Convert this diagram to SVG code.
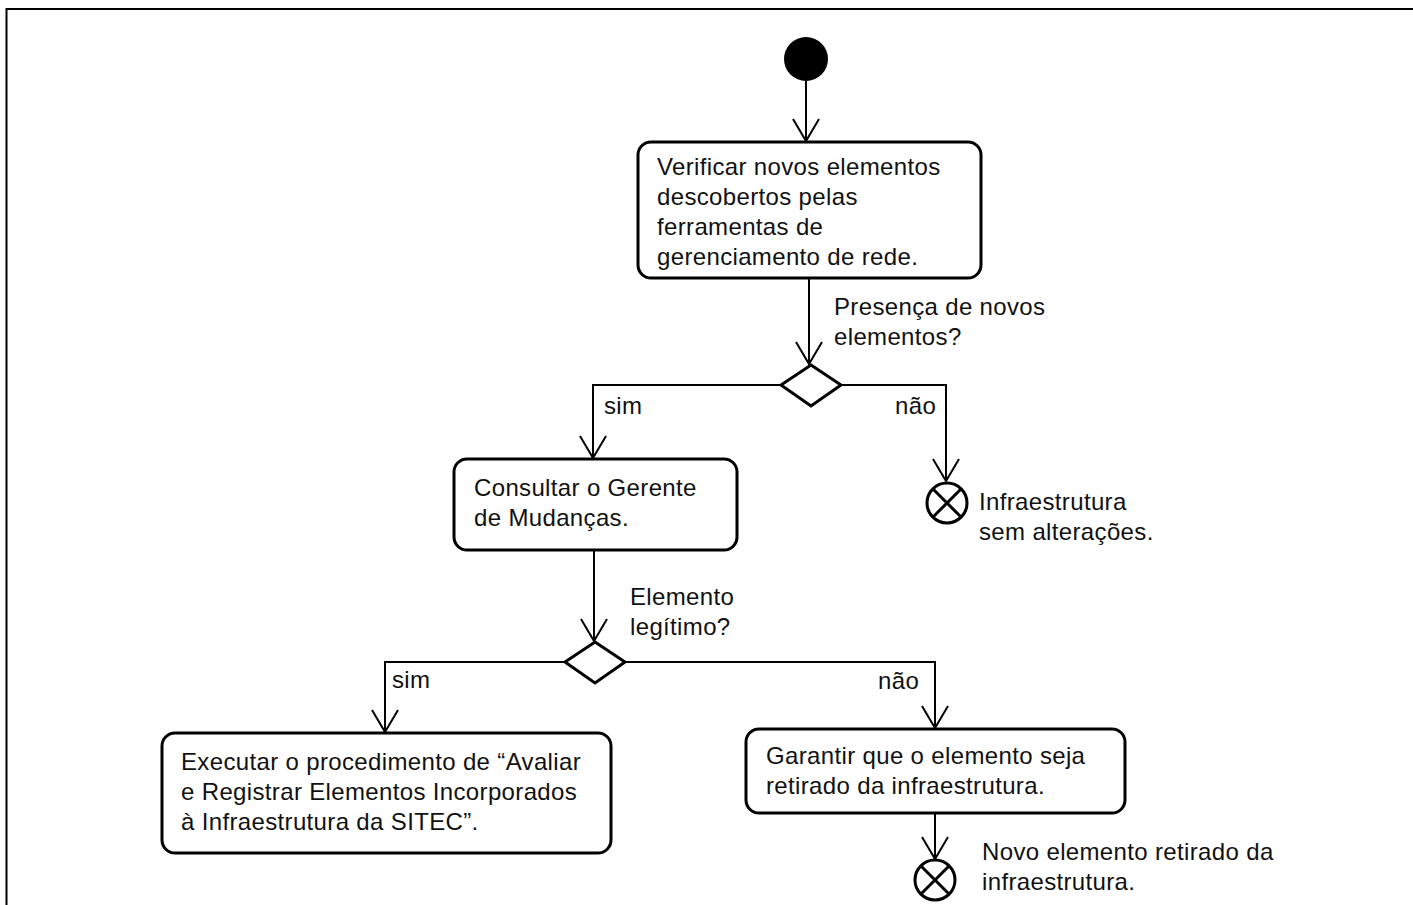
<svg xmlns="http://www.w3.org/2000/svg" width="1413" height="905" viewBox="0 0 1413 905">
  <style>
    .frame { fill: none; stroke: #000; stroke-width: 2; }
    .box { fill: #fff; stroke: #000; stroke-width: 3; }
    .dec { fill: #fff; stroke: #000; stroke-width: 3; stroke-linejoin: miter; }
    .edge { fill: none; stroke: #000; stroke-width: 2; }
    .final { fill: #fff; stroke: #000; stroke-width: 3; }
    .cross { stroke: #000; stroke-width: 3; }
    text { font-family: "Liberation Sans", Arial, sans-serif; font-size: 24px; letter-spacing: 0.35px; fill: #111; }
  </style>
  <defs>
    <marker id="open" markerUnits="userSpaceOnUse" markerWidth="30" markerHeight="30" viewBox="-24 -15 28 30" refX="0" refY="0" orient="auto">
      <path d="M-22,-13 L0,0 L-22,13" fill="none" stroke="#000" stroke-width="2"/>
    </marker>
  </defs>

  <rect width="1413" height="905" fill="#fff"/>
  <!-- frame: top and left edges -->
  <path class="frame" d="M6.5,905 V9 H1413"/>

  <g id="connectors">
    <line class="edge" x1="806" y1="81" x2="806" y2="141" marker-end="url(#open)"/>
    <line class="edge" x1="809" y1="278" x2="809" y2="364" marker-end="url(#open)"/>
    <polyline class="edge" points="781,385 593,385 593,458" marker-end="url(#open)"/>
    <polyline class="edge" points="841,385 946,385 946,481" marker-end="url(#open)"/>
    <line class="edge" x1="594" y1="550" x2="594" y2="641" marker-end="url(#open)"/>
    <polyline class="edge" points="565,662 385,662 385,732" marker-end="url(#open)"/>
    <polyline class="edge" points="625,662 935,662 935,728" marker-end="url(#open)"/>
    <line class="edge" x1="935" y1="813" x2="935" y2="859" marker-end="url(#open)"/>
  </g>

  <g id="start">
    <circle cx="806" cy="59" r="22" fill="#000"/>
  </g>

  <g id="verificar">
    <rect class="box" x="638" y="142" width="343" height="136" rx="13"/>
    <text x="657" y="175">Verificar novos elementos</text>
    <text x="657" y="205">descobertos pelas</text>
    <text x="657" y="235">ferramentas de</text>
    <text x="657" y="265">gerenciamento de rede.</text>
  </g>

  <g id="decisao-presenca">
    <polygon class="dec" points="811,365 841,385 811,406 781,385"/>
    <text x="834" y="315">Presença de novos</text>
    <text x="834" y="345">elementos?</text>
    <text x="604" y="414">sim</text>
    <text x="895" y="414">não</text>
  </g>

  <g id="fim-sem-alteracoes">
    <circle class="final" cx="947" cy="503" r="20"/>
    <line class="cross" x1="933" y1="489" x2="961" y2="517"/>
    <line class="cross" x1="961" y1="489" x2="933" y2="517"/>
    <text x="979" y="510">Infraestrutura</text>
    <text x="979" y="540">sem alterações.</text>
  </g>

  <g id="consultar">
    <rect class="box" x="454" y="459" width="283" height="91" rx="13"/>
    <text x="474" y="496">Consultar o Gerente</text>
    <text x="474" y="526">de Mudanças.</text>
  </g>

  <g id="decisao-legitimo">
    <polygon class="dec" points="595,642 625,662 595,683 565,662"/>
    <text x="630" y="605">Elemento</text>
    <text x="630" y="635">legítimo?</text>
    <text x="392" y="688">sim</text>
    <text x="878" y="689">não</text>
  </g>

  <g id="executar">
    <rect class="box" x="162" y="733" width="449" height="120" rx="13"/>
    <text x="181" y="770">Executar o procedimento de “Avaliar</text>
    <text x="181" y="800">e Registrar Elementos Incorporados</text>
    <text x="181" y="830">à Infraestrutura da SITEC”.</text>
  </g>

  <g id="garantir">
    <rect class="box" x="746" y="729" width="379" height="84" rx="13"/>
    <text x="766" y="764">Garantir que o elemento seja</text>
    <text x="766" y="794">retirado da infraestrutura.</text>
  </g>

  <g id="fim-retirado">
    <circle class="final" cx="935" cy="880" r="20"/>
    <line class="cross" x1="921" y1="866" x2="949" y2="894"/>
    <line class="cross" x1="949" y1="866" x2="921" y2="894"/>
    <text x="982" y="860">Novo elemento retirado da</text>
    <text x="982" y="890">infraestrutura.</text>
  </g>
</svg>
